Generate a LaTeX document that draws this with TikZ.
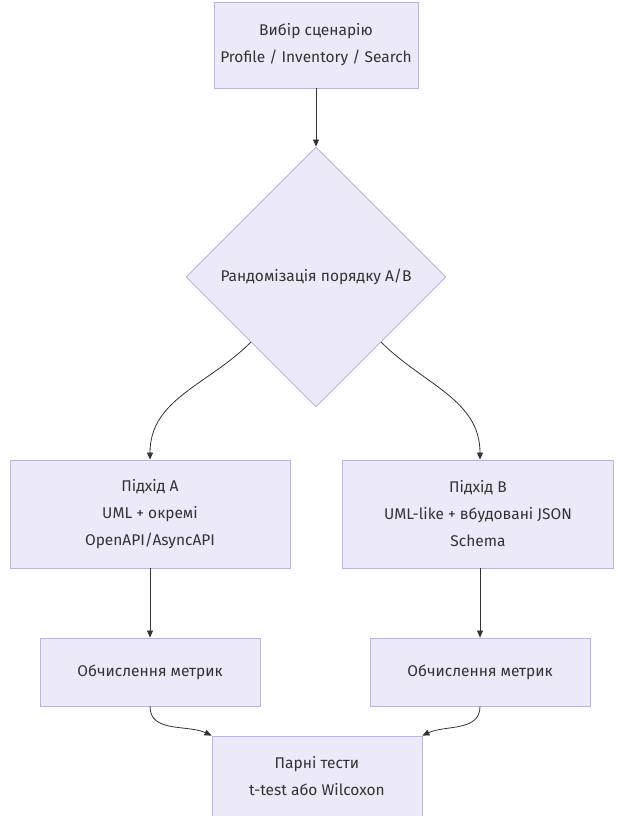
\documentclass[tikz,border=0pt]{standalone}
\usepackage{fontspec}
\setmainfont{Fira Sans}
\usepackage{xcolor}
\usetikzlibrary{shapes.geometric,arrows.meta}
\definecolor{nodefill}{HTML}{ECEAF8}
\definecolor{nodeline}{HTML}{BDB4DE}
\definecolor{inkgray}{HTML}{333333}

\begin{document}
\begin{tikzpicture}[
  x=1pt, y=-1pt,
  box/.style={rectangle, draw=nodeline, fill=nodefill, line width=0.9pt,
              align=center, text=inkgray, font=\fontsize{15.5}{27}\selectfont},
  choice/.style={diamond, aspect=1, draw=nodeline, fill=nodefill, line width=0.9pt,
                 inner sep=0pt, minimum size=260pt, text=inkgray,
                 font=\fontsize{15.5}{27}\selectfont},
  arrow/.style={-{Triangle[length=7pt, width=6pt]}, inkgray, line width=0.8pt}
]
\useasboundingbox (0,0) rectangle (618,816);

% вузли
\node[box, minimum width=204pt, minimum height=86pt] (scen) at (316, 45)
  {Вибір сценарію\\Profile / Inventory / Search};
\node[choice] (rand) at (316, 277) {Рандомізація порядку A/B};
\node[box, minimum width=280pt, minimum height=108pt] (pa) at (150, 514)
  {Підхід A\\UML + окремі\\OpenAPI/AsyncAPI};
\node[box, minimum width=271pt, minimum height=108pt] (pb) at (478, 514)
  {Підхід B\\UML-like + вбудовані JSON\\Schema};
\node[box, minimum width=220pt, minimum height=68pt] (ma) at (150, 672)
  {Обчислення метрик};
\node[box, minimum width=220pt, minimum height=68pt] (mb) at (480, 672)
  {Обчислення метрик};
\node[box, minimum width=210pt, minimum height=80pt] (test) at (317, 776)
  {Парні тести\\t-test або Wilcoxon};

% прямі стрілки
\draw[arrow] (scen) -- (rand);
\draw[arrow] (pa) -- (ma);
\draw[arrow] (pb.south -| mb) -- (mb);

% криві
\draw[arrow] (rand.south west) to[out=225, in=90] (pa.north);
\draw[arrow] (rand.south east) to[out=-45, in=90] (pb.north -| mb);
\draw[arrow] (ma.south) to[out=-90, in=155] (test.north west);
\draw[arrow] (mb.south) to[out=-90, in=25] (test.north east);
\end{tikzpicture}
\end{document}
